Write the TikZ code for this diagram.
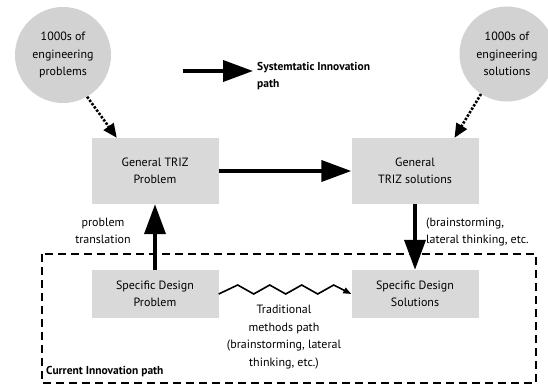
\documentclass[tikz,border=0pt]{standalone}
\usepackage{fontspec}
\setmainfont{PT Sans}
\usetikzlibrary{arrows.meta,calc}
\begin{document}
\begin{tikzpicture}[x=1pt,y=-1pt,
  every node/.style={font=\fontsize{12}{17.5}\selectfont, align=center, inner sep=0pt},
  bubble/.style={circle, fill=gray!35, minimum size=#1},
  card/.style={rectangle, fill=gray!30, minimum width=127pt, minimum height=#1},
  bigarrow/.style={line width=3.8pt, -{Triangle[length=30pt,width=21pt]}},
  dotarrow/.style={line width=2.6pt, dash pattern=on 2.4pt off 1.6pt, -{Triangle[length=14pt,width=12pt]}},
  zz/.style={line width=1.6pt, line join=miter, -{Triangle[length=8pt,width=6pt]}},
  frame/.style={line width=1.5pt, dash pattern=on 8pt off 5pt}
]
\useasboundingbox (0,0) rectangle (548,387);
\fill[white] (0,0) rectangle (548,387);

\node[bubble=96pt] (c1) at (63,55) {1000s of\\engineering\\problems};
\node[bubble=95pt] (c2) at (507,54) {1000s of\\engineering\\solutions};

\node[card=66pt] (gp) at (155,171) {General TRIZ\\Problem};
\node[card=66pt] (gs) at (415,171) {General\\TRIZ solutions};
\node[card=48pt] (sp) at (155,294) {Specific Design\\Problem};
\node[card=48pt] (ss) at (415,294) {Specific Design\\Solutions};

\draw[frame] (42,254) rectangle (536,383);

% systematic legend arrow
\coordinate (sa) at (183,71);
\coordinate (sb) at (253,71);
\draw[bigarrow] (sa) -- (sb);
\node[anchor=west, align=left, font=\bfseries\fontsize{11.5}{17.5}\selectfont] (sys) at (257,76) {Systemtatic Innovation\\path};

% main arrows
\draw[bigarrow] (gp.east) -- (gs.west);
\draw[bigarrow] (sp.north) -- (gp.south);
\draw[bigarrow] (gs.south) -- (ss.north);

% dotted arrows
\draw[dotarrow] (c1.300) -- ($(gp.north west)!0.2!(gp.north east)$);
\draw[dotarrow] (c2.237) -- ($(gs.north west)!0.81!(gs.north east)$);

% zigzag
\draw[zz] (sp.east) -- ++(19,-9) -- ++(16,9) -- ++(16,-9) -- ++(16,9) -- ++(16,-9) -- ++(16,9) -- ++(16,-9) -- (ss.west);

% labels
\node (pt) at (103,231) {problem\\translation};
\node[anchor=west, align=left] (bt) at (426,232) {(brainstorming,\\lateral thinking, etc.};
\node (tm) at (284,337) {Traditional\\methods path\\(brainstorming, lateral\\thinking, etc.)};
\node[anchor=west, font=\bfseries\fontsize{11.5}{17.5}\selectfont] (cur) at (46,372) {Current Innovation path};
\end{tikzpicture}
\end{document}
